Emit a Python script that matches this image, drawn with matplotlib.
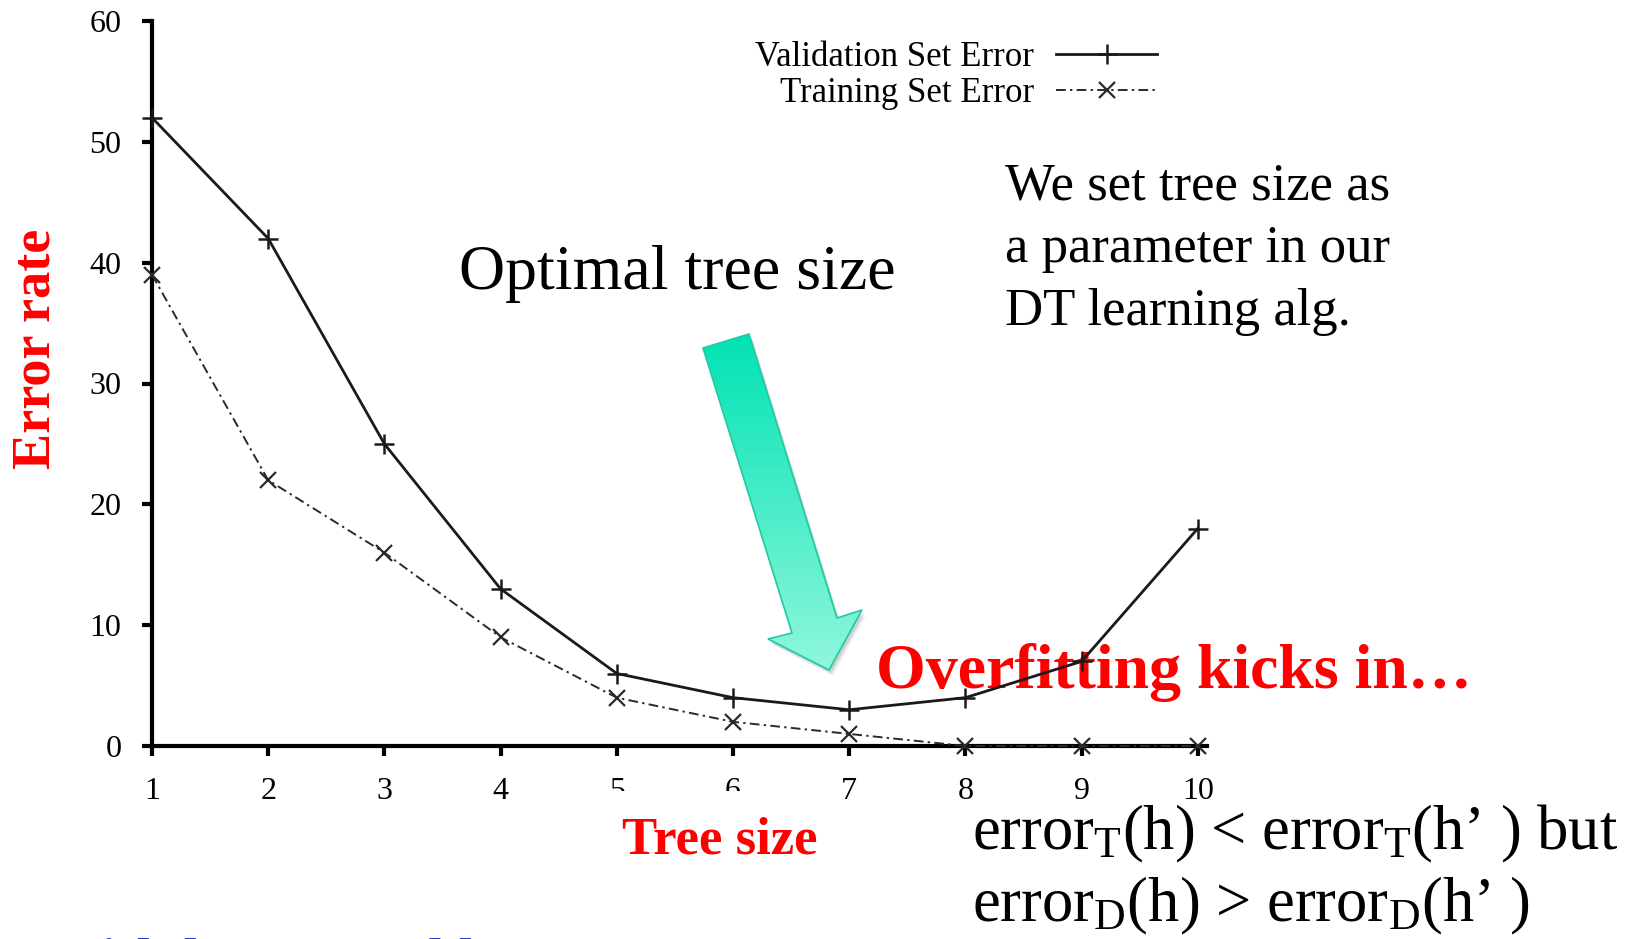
import numpy as np
import matplotlib
matplotlib.use("Agg")
import matplotlib.pyplot as plt
from matplotlib.patches import Polygon, Rectangle
from matplotlib.colors import LinearSegmentedColormap

# ---- data -------------------------------------------------------------
tree_size = [1, 2, 3, 4, 5, 6, 7, 8, 9, 10]
validation_error = [52, 42, 25, 13, 6, 4, 3, 4, 7, 18]
training_error = [39, 22, 16, 9, 4, 2, 1, 0, 0, 0]
y_ticks = [0, 10, 20, 30, 40, 50, 60]
series_labels = ["Validation Set Error", "Training Set Error"]

# ---- style --------------------------------------------------------------
plt.rcParams["font.family"] = ["Liberation Serif", "DejaVu Serif"]
plt.rcParams["mathtext.fontset"] = "custom"
plt.rcParams["mathtext.rm"] = "Liberation Serif"
plt.rcParams["mathtext.it"] = "Liberation Serif:italic"
plt.rcParams["mathtext.bf"] = "Liberation Serif:bold"

W, H = 1631, 939
fig = plt.figure(figsize=(W / 100, H / 100), dpi=100, facecolor="white")


def fx(x):
    return x / W


def fy(y):
    return 1 - y / H


# background layer in pixel units (annotations that sit under the curves)
bg = fig.add_axes([0, 0, 1, 1], zorder=-1)
bg.axis("off")

# ---- main plot ----------------------------------------------------------
ax = fig.add_axes([fx(152), fy(746), (1207 - 152) / W, (746 - 21) / H])
ax.patch.set_visible(False)
ax.plot(tree_size, validation_error, color="#1a1a1a", lw=2.0,
        marker="+", ms=14, mew=1.8, label=series_labels[0],
        clip_on=False, zorder=3)
ax.plot(tree_size, training_error, color="#2a2a2a", lw=1.4,
        ls=(0, (5, 2.2, 1.2, 2.2)), marker="x", ms=11, mew=1.6,
        label=series_labels[1], clip_on=False, zorder=3)

ax.set_xlim(1, 1 + (1207 - 152) / 116.2)
ax.set_ylim(0, 60)
ax.set_xticks(tree_size)
ax.set_yticks(y_ticks)
for side in ("top", "right"):
    ax.spines[side].set_visible(False)
for side in ("left", "bottom"):
    ax.spines[side].set_linewidth(3)
ax.tick_params(axis="both", direction="out", length=7, width=3,
               labelsize=23)
ax.tick_params(axis="y", pad=15)
ax.tick_params(axis="x", pad=15)

ax.legend(loc="upper right", bbox_to_anchor=(fx(1157), fy(41)),
          bbox_transform=fig.transFigure, frameon=False, markerfirst=False,
          numpoints=1, fontsize=25, borderpad=0, borderaxespad=0,
          handlelength=2.9, handletextpad=0.65, labelspacing=0.08)

# ---- arrow pointing at the optimum -------------------------------------
arrow_pts = np.array([(703, 348), (749, 334), (837, 618), (862, 610),
                      (829, 670), (768, 639), (792, 633)], dtype=float)
for dx, dy, a in [(4, 6, 0.05), (3, 4, 0.07), (2, 3, 0.08)]:
    bg.add_patch(Polygon(arrow_pts + [dx, dy], closed=True,
                         fc=(0, 0, 0, a), ec="none"))
teal = LinearSegmentedColormap.from_list("teal", ["#00E3B4", "#90F7DC"])
xmin, ymin = arrow_pts.min(axis=0)
xmax, ymax = arrow_pts.max(axis=0)
grad = np.linspace(0, 1, 256)[:, None]
im = bg.imshow(grad, cmap=teal, extent=(xmin, xmax, ymax, ymin),
               aspect="auto", origin="upper", zorder=2)
outline = Polygon(arrow_pts, closed=True, fc="none", ec="#1FCBA2",
                  lw=1.2, zorder=3)
bg.add_patch(outline)
im.set_clip_path(outline)
bg.set_xlim(0, W)
bg.set_ylim(H, 0)

# ---- annotations --------------------------------------------------------
bg.text(459, 289, "Optimal tree size", fontsize=46, va="baseline")
for y, line in zip([199, 262, 325],
                   ["We set tree size as", "a parameter in our",
                    "DT learning alg."]):
    bg.text(1005, y, line, fontsize=38, va="baseline")
bg.text(876, 688, "Overfitting kicks in…", fontsize=46, fontweight="bold",
        color="red", va="baseline")

fig.add_artist(Rectangle((fx(585), fy(872)), (830 - 585) / W,
                         (872 - 791) / H, transform=fig.transFigure,
                         fc="white", ec="none", zorder=2))
fig.text(fx(622), fy(853), "Tree size", color="red", fontsize=38,
         fontweight="bold", va="baseline", zorder=3)
fig.text(fx(37), fy(349), "Error rate", rotation=90, ha="center",
         va="center", color="red", fontsize=39, fontweight="bold")
fig.text(fx(972), fy(849),
         r"error$_{\mathrm{T}}$(h) < error$_{\mathrm{T}}$(h’ ) but",
         fontsize=45, va="baseline")
fig.text(fx(972), fy(921),
         r"error$_{\mathrm{D}}$(h) > error$_{\mathrm{D}}$(h’ )",
         fontsize=45, va="baseline")
fig.text(fx(-5), fy(978), "ta with larger and larger trees",
         color="#3232C8", fontsize=42, fontweight="bold", va="baseline")

fig.savefig("out.png", dpi=100, facecolor="white")
